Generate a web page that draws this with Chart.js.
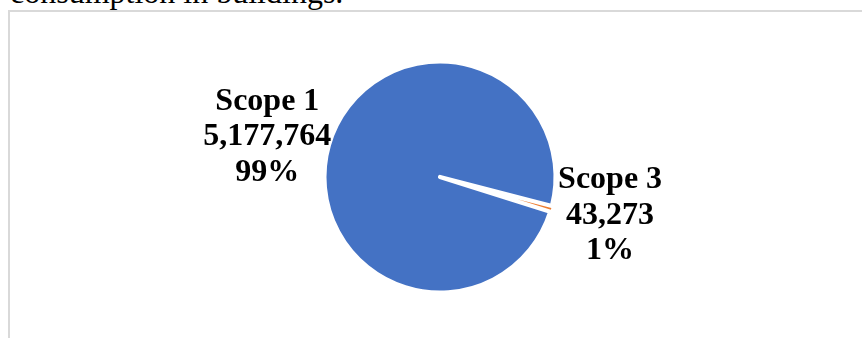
<!DOCTYPE html>
<html>
<head>
<meta charset="utf-8">
<script src="https://cdn.jsdelivr.net/npm/chart.js@4.4.1/dist/chart.umd.min.js"></script>
<style>
  html, body { margin: 0; padding: 0; background: #fff; overflow: hidden; }
  #page { position: relative; width: 862px; height: 338px; overflow: hidden; }
  #caption {
    position: absolute; left: 10px; top: -24px; white-space: nowrap;
    font: 32px "Liberation Serif", "Times New Roman", serif; line-height: 32px; color: #000;
  }
  #frame {
    position: absolute; left: 8px; top: 10px; width: 900px; height: 400px;
    border-left: 2px solid #d9d9d9; border-top: 2px solid #d9d9d9; background: #fff;
  }
  #chart { position: absolute; left: 0; top: 0; }
</style>
</head>
<body>
<div id="page">
  <div id="caption">consumption in buildings.</div>
  <div id="frame"></div>
  <canvas id="chart" width="862" height="338"></canvas>
</div>
<script>
// Emissions by scope (tCO2e)
const categories = ["Scope 3", "Scope 1"];
const emissions = [43273, 5177764];
const sliceColors = ["#ED7D31", "#4472C4"];

const total = emissions.reduce((a, b) => a + b, 0);
const fmt = new Intl.NumberFormat("en-US");

// Pie geometry
const CX = 440, CY = 177, R = 113.5, EDGE = 4.2;
const BOX = 2 * (R + EDGE);
const W = 862, H = 338;

// Value labels placed just outside each slice, along its mid angle
const sliceLabels = {
  id: "sliceLabels",
  afterDatasetsDraw(chart, args, opts) {
    const ctx = chart.ctx;
    const meta = chart.getDatasetMeta(0);
    const lh = opts.lineHeight;
    ctx.save();
    ctx.font = opts.font;
    ctx.fillStyle = opts.color;
    ctx.textAlign = "center";
    ctx.textBaseline = "alphabetic";
    meta.data.forEach((arc, i) => {
      const p = arc.getProps(["x", "y", "startAngle", "endAngle", "outerRadius"], true);
      const mid = (p.startAngle + p.endAngle) / 2;
      const c = Math.cos(mid), s = Math.sin(mid);
      const v = emissions[i];
      const lines = [categories[i], fmt.format(v), Math.round(v / total * 100) + "%"];
      const hw = Math.max(...lines.map(t => ctx.measureText(t).width)) / 2;
      const hh = lh * 1.5;
      const nudge = opts.nudge[i] || [0, 0];
      const bx = p.x + c * p.outerRadius + c * hw + nudge[0];
      const by = p.y + s * p.outerRadius + s * hh + nudge[1];
      lines.forEach((t, k) => {
        ctx.fillText(t, bx, by + (k - 1) * lh + opts.baselineShift);
      });
    });
    ctx.restore();
  }
};

new Chart(document.getElementById("chart"), {
  type: "pie",
  data: {
    labels: categories,
    datasets: [{
      data: emissions,
      backgroundColor: sliceColors,
      borderColor: "#ffffff",
      borderWidth: [0, EDGE],
      hoverBorderWidth: [0, EDGE],
      borderJoinStyle: "round",
      borderAlign: "center"
    }]
  },
  options: {
    responsive: false,
    animation: false,
    events: [],
    rotation: 104.5,
    layout: {
      padding: {
        left: CX - BOX / 2,
        right: W - (CX + BOX / 2),
        top: CY - BOX / 2,
        bottom: H - (CY + BOX / 2)
      }
    },
    plugins: {
      legend: { display: false },
      tooltip: { enabled: false },
      title: { display: false },
      sliceLabels: {
        font: "bold 32px 'Liberation Serif', 'Times New Roman', serif",
        color: "#000000",
        lineHeight: 35.5,
        baselineShift: 11,
        nudge: [[9, -11], [0, 4]]
      }
    }
  },
  plugins: [sliceLabels]
});
</script>
</body>
</html>
